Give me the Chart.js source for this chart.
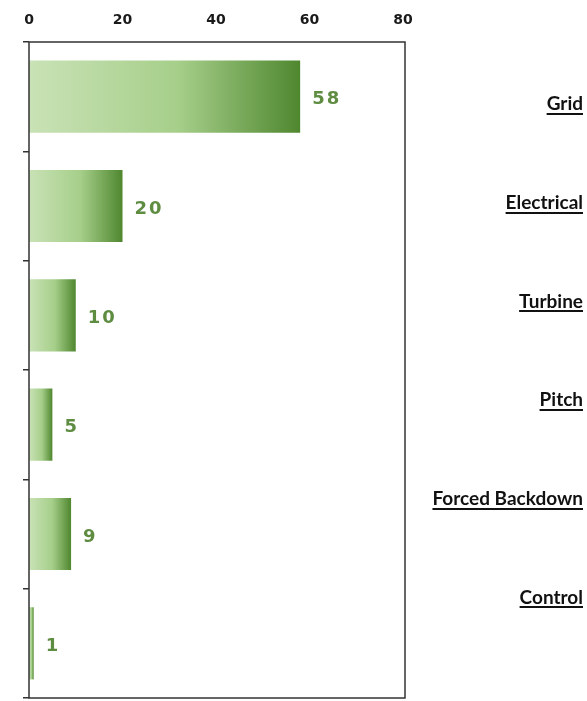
<!DOCTYPE html>
<html>
<head>
<meta charset="utf-8">
<script src="https://cdn.jsdelivr.net/npm/chart.js@4.4.1/dist/chart.umd.min.js"></script>
<style>
  html, body { margin: 0; padding: 0; background: #fff; }
  #wrap { width: 587px; height: 701px; position: relative; }
</style>
</head>
<body>
<div id="wrap"><canvas id="chart"></canvas></div>
<script>
  // Failure causes and their counts
  const categories = ['Grid', 'Electrical', 'Turbine', 'Pitch', 'Forced Backdown', 'Control'];
  const counts = [58, 20, 10, 5, 9, 1];
  const xTicks = [0, 20, 40, 60, 80];

  // gradient per bar, light on the left, dark green on the right
  function barFill(context) {
    const chart = context.chart;
    const x = chart.scales.x;
    if (!chart.chartArea || !x) return '#9bc47e';
    const v = counts[context.dataIndex];
    const x0 = x.getPixelForValue(0);
    const x1 = x.getPixelForValue(v);
    if (x1 - x0 < 2) return '#6f9a52';
    const g = chart.ctx.createLinearGradient(x0, 0, x1, 0);
    g.addColorStop(0, '#c9e2b6');
    g.addColorStop(0.55, '#a6cf8a');
    g.addColorStop(1, '#4f872f');
    return g;
  }

  // frame around the plot area
  const frame = {
    id: 'frame',
    afterDraw(chart) {
      const a = chart.chartArea, ctx = chart.ctx;
      ctx.save();
      ctx.strokeStyle = '#333';
      ctx.lineWidth = 1.5;
      ctx.strokeRect(a.left, a.top, a.right - a.left + 2, a.bottom - a.top);
      ctx.restore();
    }
  };

  // value labels at the end of each bar, plus underline on right labels
  const extras = {
    id: 'extras',
    afterDatasetsDraw(chart) {
      const ctx = chart.ctx;
      const meta = chart.getDatasetMeta(0);
      ctx.save();
      ctx.font = 'bold 18px "DejaVu Sans"';
      ctx.letterSpacing = '2px';
      ctx.fillStyle = '#5e8c41';
      ctx.textAlign = 'left';
      ctx.textBaseline = 'middle';
      meta.data.forEach((bar, i) => {
        ctx.fillText(String(counts[i]), bar.x + 12, bar.y + 3);
      });
      ctx.restore();
    },
    afterDraw(chart) {
      const ctx = chart.ctx;
      const s = chart.scales.y2;
      ctx.save();
      ctx.font = 'bold 19px Lato';
      ctx.strokeStyle = '#111';
      ctx.lineWidth = 2;
      categories.forEach((c, i) => {
        const w = ctx.measureText(c).width;
        const y = Math.round(s.getPixelForValue(i)) + 10;
        const xr = s.right;
        ctx.beginPath();
        ctx.moveTo(xr - w, y);
        ctx.lineTo(xr, y);
        ctx.stroke();
      });
      ctx.restore();
    }
  };

  new Chart(document.getElementById('chart'), {
    type: 'bar',
    data: {
      labels: categories,
      datasets: [{
        data: counts,
        backgroundColor: barFill,
        borderWidth: 0,
        barPercentage: 0.66,
        categoryPercentage: 1
      }]
    },
    options: {
      indexAxis: 'y',
      responsive: true,
      maintainAspectRatio: false,
      animation: false,
      layout: { padding: { top: 0, right: 4, bottom: 3, left: 0 } },
      plugins: {
        legend: { display: false },
        tooltip: { enabled: false }
      },
      scales: {
        x: {
          position: 'top',
          min: 0,
          max: 80,
          afterBuildTicks(scale) {
            scale.ticks = xTicks.map(v => ({ value: v }));
          },
          afterFit(scale) { scale.height = 42; },
          ticks: {
            color: '#1a1a1a',
            padding: 13,
            font: { family: 'DejaVu Sans', size: 14, weight: 'bold' }
          },
          grid: { display: false, drawTicks: false },
          border: { display: false }
        },
        y: {
          position: 'left',
          afterFit(scale) {
            scale.width = 29;
            scale.paddingTop = 0;
            scale.paddingBottom = 0;
          },
          ticks: { display: false },
          grid: {
            drawOnChartArea: false,
            tickLength: 6,
            color: '#333',
            lineWidth: 1.5
          },
          border: { display: false }
        },
        // the cause labels sit in their own column, spaced a bit tighter than the bars
        y2: {
          type: 'linear',
          position: 'right',
          reverse: true,
          offset: false,
          bounds: 'data',
          min: -0.63,
          max: 6.02,
          afterBuildTicks(scale) {
            scale.ticks = categories.map((c, i) => ({ value: i }));
            scale.min = -0.63;
            scale.max = 6.02;
          },
          afterFit(scale) {
            scale.width = 180;
            scale.paddingTop = 0;
            scale.paddingBottom = 0;
          },
          ticks: {
            crossAlign: 'far',
            color: '#111',
            font: { family: 'Lato', size: 19, weight: 'bold' },
            callback: (v) => categories[v]
          },
          grid: { display: false, offset: false },
          border: { display: false }
        }
      }
    },
    plugins: [frame, extras]
  });
</script>
</body>
</html>
